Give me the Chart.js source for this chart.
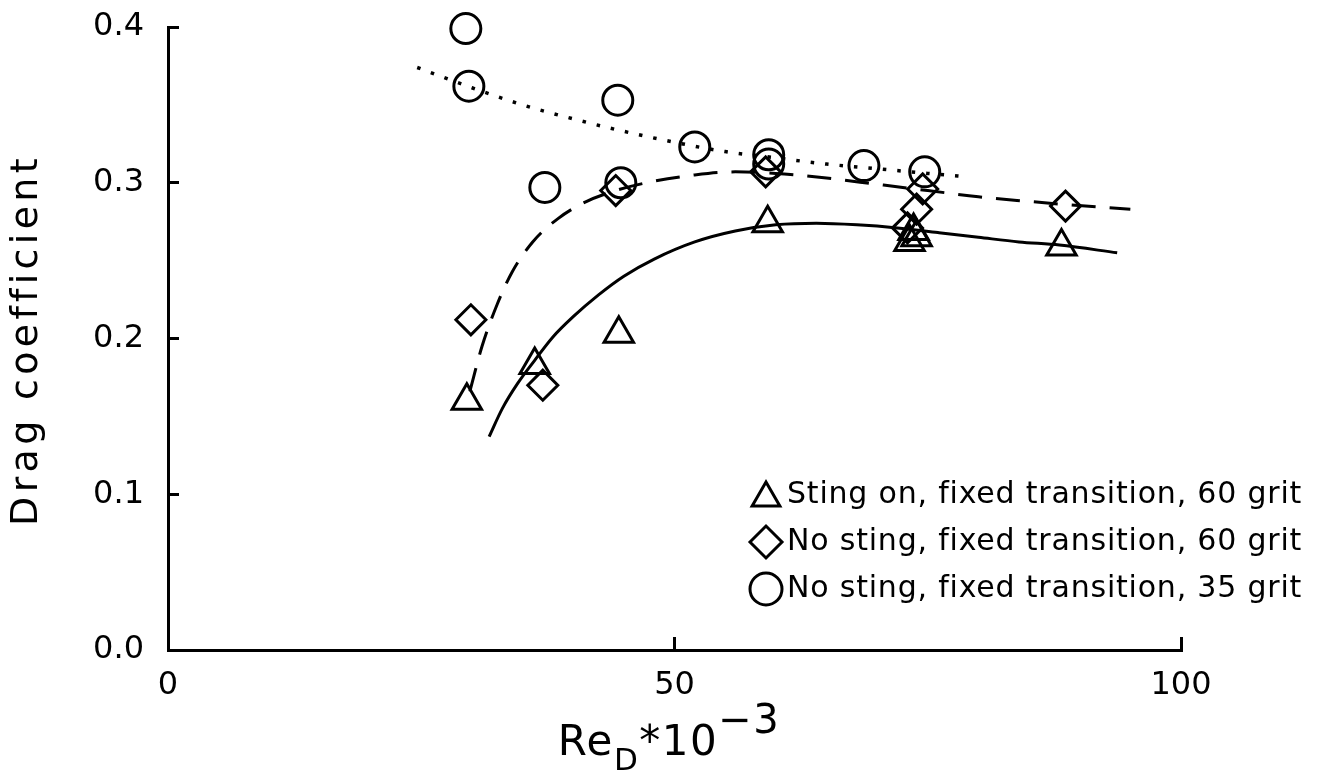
<!DOCTYPE html>
<html>
<head>
<meta charset="utf-8">
<title>Drag coefficient vs Reynolds number</title>
<script src="https://cdn.jsdelivr.net/npm/chart.js"></script>
<style>
  html, body { margin: 0; padding: 0; background: #fff; }
  #wrap { width: 1322px; height: 779px; }
</style>
</head>
<body>
<div id="wrap"><canvas id="drag" width="1322" height="779"></canvas></div>
<script>
// measured points (Re_D * 1e-3, Cd)
const stingOnX = [29.5, 36.2, 44.5, 59.2, 73.2, 73.6, 73.9, 88.2];
const stingOnY = [0.160, 0.183, 0.203, 0.274, 0.262, 0.269, 0.265, 0.259];

const noSting60X = [29.9, 37.0, 44.2, 59.0, 73.0, 73.9, 74.5, 88.6];
const noSting60Y = [0.212, 0.170, 0.295, 0.307, 0.271, 0.283, 0.296, 0.285];

const noSting35X = [29.4, 29.7, 37.2, 44.4, 44.7, 52.0, 59.3, 59.3, 68.7, 74.7];
const noSting35Y = [0.399, 0.362, 0.297, 0.353, 0.300, 0.323, 0.318, 0.312, 0.311, 0.307];

// faired curves through each set
const fitStingX = [31.7, 33, 34.5, 36.2, 38, 40, 42.5, 45, 48, 52, 56, 60, 64, 68, 72, 76, 80, 84, 88, 93.7];
const fitStingY = [0.137, 0.155, 0.171, 0.186, 0.201, 0.214, 0.228, 0.240, 0.251, 0.262, 0.269, 0.273, 0.274, 0.273, 0.271, 0.268, 0.265, 0.262, 0.260, 0.255];

const fit60X = [29.8, 31, 32.5, 34, 36, 38.5, 41, 44.2, 48, 52, 56, 60, 65, 70, 75, 80, 85, 88.6, 95];
const fit60Y = [0.166, 0.195, 0.222, 0.243, 0.262, 0.277, 0.287, 0.295, 0.301, 0.305, 0.307, 0.306, 0.303, 0.299, 0.295, 0.291, 0.288, 0.286, 0.283];

const fit35X = [24.6, 30, 35, 40, 45, 50, 55, 60, 65, 70, 75, 78.5];
const fit35Y = [0.374, 0.361, 0.350, 0.341, 0.333, 0.326, 0.320, 0.316, 0.312, 0.309, 0.306, 0.304];

const xTicks = [0, 50, 100];
const yTicks = [0.0, 0.1, 0.2, 0.3, 0.4];

const legendLabels = [
  "Sting on, fixed transition, 60 grit",
  "No sting, fixed transition, 60 grit",
  "No sting, fixed transition, 35 grit"
];
const legendStyles = ["triangle", "rectRot", "circle"];

const FONT = '"DejaVu Sans", "Liberation Sans", sans-serif';

function pts(xs, ys) {
  return xs.map((x, i) => ({ x: x, y: ys[i] }));
}

function curve(xs, ys, dash, width) {
  return {
    data: pts(xs, ys),
    showLine: true,
    borderColor: "#000",
    borderWidth: width,
    borderDash: dash,
    borderCapStyle: "butt",
    pointRadius: 0,
    fill: false,
    clip: false,
    cubicInterpolationMode: "monotone"
  };
}

function markers(xs, ys, style, r) {
  return {
    data: pts(xs, ys),
    showLine: false,
    clip: false,
    pointStyle: style,
    pointRadius: r,
    pointBorderWidth: 3,
    pointBorderColor: "#000",
    pointBackgroundColor: "rgba(0,0,0,0)"
  };
}

function drawMarker(ctx, style, r, x, y) {
  ctx.save();
  ctx.fillStyle = "rgba(0,0,0,0)";
  ctx.strokeStyle = "#000";
  ctx.lineWidth = 3;
  if (Chart.helpers && Chart.helpers.drawPoint) {
    Chart.helpers.drawPoint(ctx, { pointStyle: style, radius: r, borderWidth: 3, rotation: 0 }, x, y);
  } else {
    ctx.beginPath();
    if (style === "circle") {
      ctx.arc(x, y, r, 0, Math.PI * 2);
    } else if (style === "rectRot") {
      ctx.moveTo(x - r, y); ctx.lineTo(x, y - r); ctx.lineTo(x + r, y); ctx.lineTo(x, y + r);
      ctx.closePath();
    } else {
      ctx.moveTo(x, y - r); ctx.lineTo(x + r * 0.866, y + r / 2); ctx.lineTo(x - r * 0.866, y + r / 2);
      ctx.closePath();
    }
    ctx.stroke();
  }
  ctx.restore();
}

// axis titles and the key are painted straight onto the canvas
const textLayer = {
  id: "textLayer",
  afterDraw(chart) {
    const ctx = chart.ctx;
    ctx.save();
    ctx.fillStyle = "#000";

    // y title
    ctx.save();
    ctx.translate(27, 340);
    ctx.rotate(-Math.PI / 2);
    ctx.font = "38px " + FONT;
    ctx.letterSpacing = "4.3px";
    ctx.textAlign = "center";
    ctx.textBaseline = "middle";
    ctx.fillText("Drag coefficient", 0, 0);
    ctx.restore();

    // x title: Re_D*10^-3
    const parts = [
      { t: "Re", size: 42, dy: 0 },
      { t: "D", size: 31, dy: 15 },
      { t: "*10", size: 42, dy: 0 },
      { t: "\u22123", size: 40, dy: -22 }
    ];
    ctx.textBaseline = "alphabetic";
    ctx.textAlign = "left";
    ctx.letterSpacing = "1.5px";
    let total = 0;
    parts.forEach(p => {
      ctx.font = p.size + "px " + FONT;
      p.w = ctx.measureText(p.t).width;
      total += p.w;
    });
    let cx = 669 - total / 2;
    const base = 755;
    parts.forEach(p => {
      ctx.font = p.size + "px " + FONT;
      ctx.fillText(p.t, cx, base + p.dy);
      cx += p.w;
    });

    // key
    ctx.font = "30px " + FONT;
    ctx.letterSpacing = "0.8px";
    ctx.textBaseline = "middle";
    const rows = [495, 542, 589];
    legendLabels.forEach((label, i) => {
      drawMarker(ctx, legendStyles[i], 16, 766, rows[i] + (legendStyles[i] === "triangle" ? 3 : 0));
      ctx.fillText(label, 787, rows[i]);
    });
    ctx.restore();
  }
};

new Chart(document.getElementById("drag"), {
  type: "scatter",
  data: {
    datasets: [
      curve(fitStingX, fitStingY, [], 3),
      curve(fit60X, fit60Y, [24, 14], 3),
      curve(fit35X, fit35Y, [3.5, 11], 3.5),
      markers(stingOnX, stingOnY, "triangle", 17),
      markers(noSting60X, noSting60Y, "rectRot", 15),
      markers(noSting35X, noSting35Y, "circle", 15)
    ]
  },
  options: {
    responsive: false,
    devicePixelRatio: 1,
    animation: false,
    layout: { padding: { top: 27, right: 141, bottom: 0, left: 0 } },
    plugins: {
      legend: { display: false },
      tooltip: { enabled: false }
    },
    scales: {
      x: {
        type: "linear",
        min: 0,
        max: 100,
        afterBuildTicks: s => { s.ticks = xTicks.map(v => ({ value: v })); },
        afterFit: s => { s.height = 129; },
        border: { display: true, color: "#000", width: 3 },
        grid: { drawOnChartArea: false, drawTicks: true, tickLength: -13, tickWidth: 3, tickColor: "#000" },
        ticks: {
          padding: 29,
          color: "#000",
          font: { family: FONT, size: 32 },
          callback: v => String(v)
        }
      },
      y: {
        type: "linear",
        min: 0,
        max: 0.4,
        afterBuildTicks: s => { s.ticks = yTicks.map(v => ({ value: v })); },
        afterFit: s => { s.width = 168; s.paddingTop = 0; s.paddingBottom = 0; },
        border: { display: true, color: "#000", width: 3 },
        grid: { drawOnChartArea: false, drawTicks: true, tickLength: -11, tickWidth: 3, tickColor: "#000" },
        ticks: {
          padding: 35,
          color: "#000",
          font: { family: FONT, size: 32 },
          callback: v => v.toFixed(1)
        }
      }
    }
  },
  plugins: [textLayer]
});
</script>
</body>
</html>
